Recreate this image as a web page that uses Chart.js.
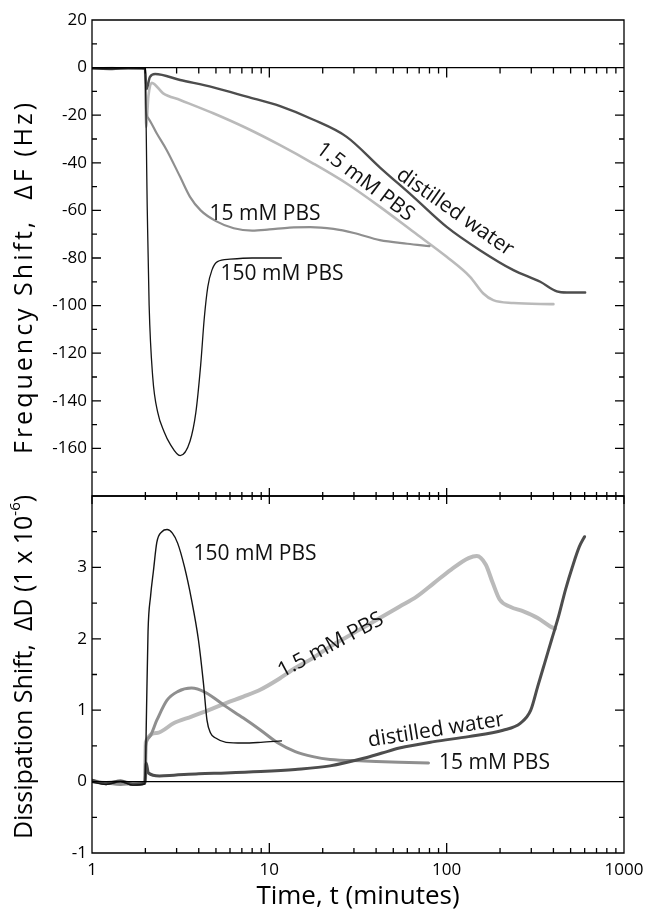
<!DOCTYPE html>
<html>
<head>
<meta charset="utf-8">
<script src="https://cdn.jsdelivr.net/npm/chart.js@4.4.1/dist/chart.umd.min.js"></script>
<style>
html, body { margin: 0; padding: 0; background: #fff; }
#wrap { position: relative; width: 651px; height: 914px; overflow: hidden; }
#freqChart { position: absolute; left: 0; top: 0; }
#dissChart { position: absolute; left: 0; top: 476px; }
</style>
</head>
<body>
<div id="wrap">
<canvas id="freqChart" width="651" height="520"></canvas>
<canvas id="dissChart" width="651" height="438"></canvas>
</div>
<script>
// time axis (minutes), tick marks on the log axis
const timeTicks = [1,2,3,4,5,6,7,8,9,10,20,30,40,50,60,70,80,90,100,200,300,400,500,600,700,800,900,1000];

const seriesLabels = ['150 mM PBS', 'distilled water', '15 mM PBS', '1.5 mM PBS'];
const seriesColors = ['#141414', '#4d4d4d', '#8f8f8f', '#bababa'];

// ---- Frequency shift (Hz) ----
const f150_t = [1, 1.3, 1.6, 1.99, 2.05, 2.1, 2.2, 2.35, 2.55, 2.75, 3.14, 3.57, 3.85, 4.1, 4.3, 4.5, 4.75, 5.1, 6, 8, 11.7];
const f150   = [-0.3, -0.5, -0.2, -0.4, -60, -100, -130, -145, -153, -158, -163, -157, -145, -125, -105, -92, -85, -81.5, -80.5, -80, -80];

const fWater_t = [1, 1.3, 1.6, 1.99, 2.03, 2.12, 2.27, 3.14, 4.83, 7.46, 11.5, 17.6, 27.3, 42.1, 64.9, 100, 154, 238, 337, 418, 476, 604];
const fWater   = [-0.3, -0.6, -0.2, -0.4, -9, -4, -2.7, -5.2, -8.3, -12.2, -16.2, -21.8, -29.1, -42, -54.3, -66.9, -76.7, -85.1, -90, -94, -94.5, -94.5];

const f15_t = [1, 1.3, 1.6, 1.99, 2.02, 2.08, 2.32, 2.64, 3.14, 3.57, 4.1, 5, 6.3, 8, 10, 13, 17, 23, 30, 42, 60, 80];
const f15   = [-0.2, -0.4, -0.3, -0.5, -18, -21.3, -27.7, -34.7, -45.9, -54.3, -60, -64.5, -67.5, -68.5, -68, -67.2, -67, -67.8, -69.5, -72.5, -74, -75];

const f1_5_t = [1, 1.3, 1.6, 1.99, 2.02, 2.08, 2.17, 2.52, 3.14, 4.83, 7.46, 11.5, 17.7, 27.3, 42.1, 64.9, 100, 135.5, 161, 183, 238, 400];
const f1_5   = [-0.4, -0.2, -0.5, -0.3, -25, -12, -6.4, -10.8, -13.6, -19.2, -25.5, -32.6, -40.3, -48.7, -58.5, -69, -79.5, -87.9, -94.9, -97.7, -98.9, -99.4];

// ---- Dissipation shift (1 x 10^-6) ----
const d150_t = [1, 1.2, 1.45, 1.7, 1.99, 2.03, 2.07, 2.14, 2.22, 2.32, 2.48, 2.65, 2.84, 3.04, 3.32, 3.64, 3.98, 4.25, 4.45, 4.66, 4.98, 5.7, 7.14, 8.94, 11.7];
const d150   = [-0.01, -0.04, 0.0, -0.05, -0.03, 1.0, 2.1, 2.6, 2.95, 3.35, 3.5, 3.53, 3.48, 3.34, 3.01, 2.55, 1.99, 1.38, 0.86, 0.68, 0.61, 0.55, 0.54, 0.55, 0.57];

const dWater_t = [1, 1.2, 1.45, 1.7, 1.99, 2.02, 2.08, 2.4, 2.9, 4, 5.7, 8.94, 14, 22, 34.5, 43.2, 54.1, 84.7, 133, 208, 261, 298, 326, 357, 391, 427, 468, 512, 560, 599];
const dWater   = [0.02, -0.03, 0.01, -0.04, -0.02, 0.26, 0.12, 0.08, 0.09, 0.11, 0.12, 0.14, 0.17, 0.22, 0.33, 0.4, 0.47, 0.56, 0.63, 0.72, 0.82, 1.0, 1.33, 1.66, 1.99, 2.31, 2.69, 3.01, 3.29, 3.43];

const d15_t = [1, 1.2, 1.45, 1.7, 1.99, 2.01, 2.1, 2.32, 2.65, 3.04, 3.64, 4.35, 5.7, 7.14, 8.94, 11.2, 14, 17.6, 22, 34.5, 54, 79];
const d15   = [0.0, -0.02, -0.04, -0.03, -0.02, 0.5, 0.62, 0.86, 1.14, 1.26, 1.31, 1.25, 1.05, 0.89, 0.72, 0.54, 0.42, 0.35, 0.31, 0.29, 0.27, 0.26];

const d1_5_t = [1, 1.2, 1.45, 1.7, 1.99, 2.01, 2.32, 2.9, 3.64, 4.55, 5.7, 7.14, 8.94, 11.2, 14, 17.6, 22, 27.5, 34.5, 43.2, 54.1, 67.7, 84.7, 106, 133, 148, 166, 182, 199, 228, 273, 326, 380, 408];
const d1_5   = [0.01, -0.02, 0.0, -0.03, -0.01, 0.55, 0.68, 0.82, 0.91, 1.0, 1.1, 1.19, 1.29, 1.43, 1.59, 1.73, 1.89, 2.03, 2.17, 2.31, 2.45, 2.59, 2.78, 2.97, 3.13, 3.16, 3.04, 2.78, 2.55, 2.45, 2.38, 2.29, 2.18, 2.14];

// text labels placed on the curves (data coords)
const freqNotes = [
    { text: '1.5 mM PBS', t: 34.7, v: -48.1, angle: 37 },
    { text: 'distilled water', t: 111.5, v: -60.7, angle: 35 },
    { text: '15 mM PBS', t: 9.46, v: -61.6, angle: 0 },
    { text: '150 mM PBS', t: 11.8, v: -86.8, angle: 0 }
];
const dissNotes = [
    { text: '150 mM PBS', t: 8.3, v: 3.19, angle: 0 },
    { text: '1.5 mM PBS', t: 22.2, v: 1.91, angle: -28 },
    { text: 'distilled water', t: 87.1, v: 0.72, angle: -9 },
    { text: '15 mM PBS', t: 186, v: 0.26, angle: 0 }
];

Chart.defaults.font.family = '"Open Sans", sans-serif';
Chart.defaults.color = '#000';

function isDecade(v) {
    const l = Math.log10(v);
    return Math.abs(l - Math.round(l)) < 1e-9;
}

function makeSets(tList, vList, widths) {
    return seriesLabels.map(function (lab, i) {
        return {
            label: lab,
            data: tList[i].map(function (t, j) { return { x: t, y: vList[i][j] }; }),
            borderColor: seriesColors[i],
            borderWidth: widths[i],
            pointRadius: 0,
            cubicInterpolationMode: 'monotone',
            borderJoinStyle: 'round',
            borderCapStyle: 'round',
            fill: false
        };
    });
}

// frame, zero line and inward tick marks
function frameTicks(mode) {
    return {
        id: 'frameTicks',
        afterDatasetsDraw(chart) {
            const ctx = chart.ctx, a = chart.chartArea;
            const xs = chart.scales.x, ys = chart.scales.y;
            ctx.save();
            ctx.strokeStyle = '#000';
            ctx.lineWidth = 1.3;
            ctx.beginPath();
            ctx.rect(a.left, a.top, a.right - a.left, a.bottom - a.top);
            const y0 = ys.getPixelForValue(0);
            ctx.moveTo(a.left, y0);
            ctx.lineTo(a.right, y0);
            ys.ticks.forEach(function (t) {
                const py = ys.getPixelForValue(t.value);
                const len = t.label === '' ? 5 : 9;
                ctx.moveTo(a.left, py); ctx.lineTo(a.left + len, py);
                ctx.moveTo(a.right, py); ctx.lineTo(a.right - len, py);
            });
            timeTicks.forEach(function (v) {
                const px = xs.getPixelForValue(v);
                const big = isDecade(v);
                if (mode === 'top') {
                    ctx.moveTo(px, y0); ctx.lineTo(px, y0 + (big ? 10 : 6));
                    ctx.moveTo(px, a.bottom - (big ? 8 : 4)); ctx.lineTo(px, a.bottom + (big ? 8 : 4));
                } else {
                    ctx.moveTo(px, a.bottom); ctx.lineTo(px, a.bottom - (big ? 10 : 5));
                }
            });
            ctx.stroke();
            ctx.restore();
        }
    };
}

function noteLabels(notes) {
    return {
        id: 'noteLabels',
        afterDatasetsDraw(chart) {
            const ctx = chart.ctx, xs = chart.scales.x, ys = chart.scales.y;
            ctx.save();
            ctx.font = '21px "Open Sans"';
            ctx.fillStyle = '#111';
            ctx.textAlign = 'center';
            ctx.textBaseline = 'middle';
            notes.forEach(function (n) {
                ctx.save();
                ctx.translate(xs.getPixelForValue(n.t), ys.getPixelForValue(n.v));
                ctx.rotate(n.angle * Math.PI / 180);
                ctx.fillText(n.text, 0, 0);
                ctx.restore();
            });
            ctx.restore();
        }
    };
}

// rotated y axis title, with optional superscript piece
function sideTitle(parts, cx, cy, spacing) {
    return {
        id: 'sideTitle',
        afterDraw(chart) {
            const ctx = chart.ctx;
            ctx.save();
            ctx.translate(cx, cy);
            ctx.rotate(-Math.PI / 2);
            ctx.fillStyle = '#000';
            ctx.textBaseline = 'middle';
            ctx.textAlign = 'left';
            ctx.letterSpacing = spacing + 'px';
            const fonts = parts.map(function (p) { return p.sup ? '15px "Open Sans"' : '25px "Open Sans"'; });
            const widths = parts.map(function (p, i) { ctx.font = fonts[i]; return ctx.measureText(p.text).width; });
            let x = -widths.reduce(function (s, w) { return s + w; }, 0) / 2;
            parts.forEach(function (p, i) {
                ctx.font = fonts[i];
                ctx.fillText(p.text, x, p.sup ? -9 : 0);
                x += widths[i];
            });
            ctx.restore();
        }
    };
}

// top: frequency shift
new Chart(document.getElementById('freqChart'), {
    type: 'line',
    data: { datasets: makeSets([f150_t, fWater_t, f15_t, f1_5_t], [f150, fWater, f15, f1_5], [1.3, 2.4, 2.2, 2.6]) },
    options: {
        responsive: false,
        animation: false,
        layout: { padding: { left: 0, top: 20, right: 27, bottom: 24 } },
        plugins: { legend: { display: false }, tooltip: { enabled: false } },
        scales: {
            x: { type: 'logarithmic', min: 1, max: 1000, display: false },
            y: {
                min: -180, max: 20,
                afterFit: function (s) { s.width = 92; },
                grid: { display: false, drawTicks: false },
                border: { display: false },
                ticks: {
                    stepSize: 10, autoSkip: false, padding: 5,
                    font: { size: 17 }, color: '#000',
                    callback: function (v) { return (v % 20 === 0 && v > -180) ? String(v) : ''; }
                }
            }
        }
    },
    plugins: [frameTicks('top'), noteLabels(freqNotes), sideTitle([{ text: 'Frequency Shift,  ΔF (Hz)' }], 25, 277, 3)]
});

// bottom: dissipation shift
new Chart(document.getElementById('dissChart'), {
    type: 'line',
    data: { datasets: makeSets([d150_t, dWater_t, d15_t, d1_5_t], [d150, dWater, d15, d1_5], [1.4, 3, 3, 4]) },
    options: {
        responsive: false,
        animation: false,
        layout: { padding: { left: 0, top: 20, right: 27, bottom: 0 } },
        plugins: { legend: { display: false }, tooltip: { enabled: false } },
        scales: {
            x: {
                type: 'logarithmic', min: 1, max: 1000,
                afterBuildTicks: function (s) { s.ticks = timeTicks.map(function (v) { return { value: v }; }); },
                afterFit: function (s) { s.height = 61; },
                grid: { display: false, drawTicks: false },
                border: { display: false },
                ticks: {
                    autoSkip: false, maxRotation: 0, padding: 7,
                    font: { size: 17 }, color: '#000',
                    callback: function (v) { return isDecade(v) ? String(v) : ''; }
                },
                title: { display: true, text: 'Time, t (minutes)', font: { size: 26 }, color: '#000', padding: { top: 0, bottom: 2 } }
            },
            y: {
                min: -1, max: 4,
                afterFit: function (s) { s.width = 92; },
                grid: { display: false, drawTicks: false },
                border: { display: false },
                ticks: {
                    stepSize: 0.5, autoSkip: false, padding: 5,
                    font: { size: 17 }, color: '#000',
                    callback: function (v) { return (Number.isInteger(v) && v < 4) ? String(v) : ''; }
                }
            }
        }
    },
    plugins: [frameTicks('bottom'), noteLabels(dissNotes), sideTitle([{ text: 'Dissipation Shift,  ΔD (1 x 10' }, { text: '-6', sup: true }, { text: ')' }], 25, 191, 0)]
});
</script>
</body>
</html>
